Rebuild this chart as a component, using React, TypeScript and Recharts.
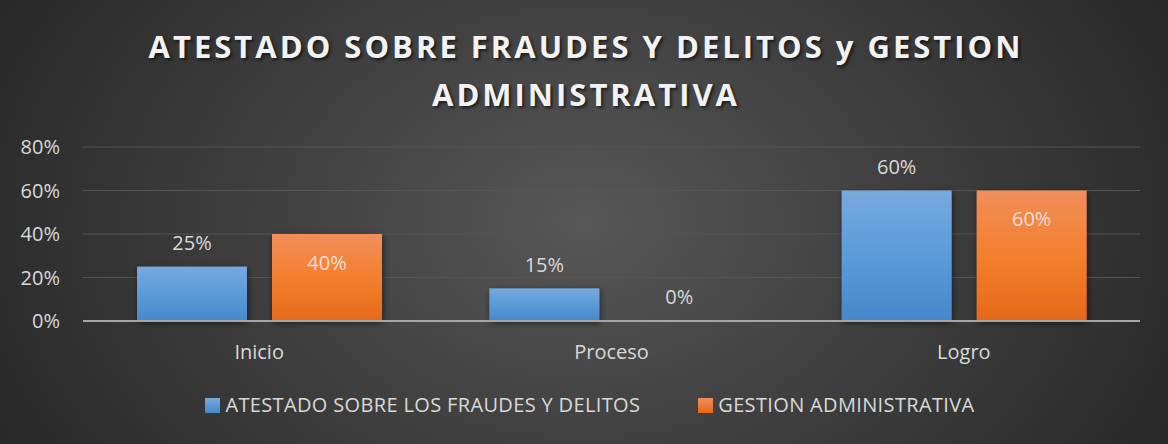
import React from "react";
import { BarChart, Bar, XAxis, YAxis, CartesianGrid, LabelList } from "recharts";

const categories = ["Inicio", "Proceso", "Logro"];
const atestadoValues = [0.25, 0.15, 0.6];
const gestionValues = [0.4, 0, 0.6];
const yTicks = [0, 0.2, 0.4, 0.6, 0.8];
const seriesNames = ["ATESTADO SOBRE LOS FRAUDES Y DELITOS", "GESTION ADMINISTRATIVA"];
const titleLines = ["ATESTADO SOBRE FRAUDES Y DELITOS y GESTION", "ADMINISTRATIVA"];

const data = categories.map((c, i) => ({ name: c, a: atestadoValues[i], g: gestionValues[i] }));

const FONT = "'Open Sans', sans-serif";
const pct = (v: number) => `${Math.round(v * 100)}%`;

const shapeFor = (fillId: string) => (props: any) => {
  const { x, y, width, height } = props;
  if (!height || height <= 0) return <g />;
  return <rect x={x} y={y} width={width} height={height} fill={`url(#${fillId})`} filter="url(#barShadow)" />;
};

const blueLabel = (props: any) => {
  const { x, y, width, value } = props;
  return (
    <text x={x + width / 2} y={y - 24} textAnchor="middle" dominantBaseline="central" fill="#d9d9d9" fontSize={20} fontFamily={FONT}>
      {pct(value)}
    </text>
  );
};

const orangeLabel = (props: any) => {
  const { x, y, width, value } = props;
  const inside = value > 0;
  return (
    <text x={x + width / 2} y={inside ? y + 28 : y - 25} textAnchor="middle" dominantBaseline="central" fill={inside ? "#ecdfd6" : "#d9d9d9"} fontSize={20} fontFamily={FONT}>
      {pct(value)}
    </text>
  );
};

export default function App() {
  return (
    <div
      style={{
        position: "relative",
        width: 1168,
        height: 444,
        overflow: "hidden",
        background: "radial-gradient(ellipse 58% 110% at 50% 50%, #575757 0%, #3e3e3e 50%, #272727 100%)",
        fontFamily: FONT,
      }}
    >
      <style>{"body{margin:0}"}</style>
      {titleLines.map((t, i) => (
        <div
          key={i}
          style={{
            position: "absolute",
            left: 2,
            width: 1168,
            top: i === 0 ? 24 : 72,
            textAlign: "center",
            color: "#f2f2f2",
            fontWeight: 700,
            fontSize: 31,
            letterSpacing: 3,
            lineHeight: "44px",
            textShadow: "2px 2px 3px rgba(0,0,0,0.6)",
          }}
        >
          {t}
        </div>
      ))}
      <div style={{ position: "absolute", left: 0, top: 0 }}>
        <BarChart width={1168} height={444} data={data} margin={{ top: 147, right: 28, left: 0, bottom: 93 }} barSize={110} barGap={25}>
          <defs>
            <linearGradient id="blueGrad" x1="0" y1="0" x2="0" y2="1">
              <stop offset="0%" stopColor="#76aadf" />
              <stop offset="50%" stopColor="#5b9bd9" />
              <stop offset="100%" stopColor="#4588cb" />
            </linearGradient>
            <linearGradient id="orangeGrad" x1="0" y1="0" x2="0" y2="1">
              <stop offset="0%" stopColor="#f18e5b" />
              <stop offset="50%" stopColor="#f47f2e" />
              <stop offset="100%" stopColor="#e5691a" />
            </linearGradient>
            <filter id="barShadow" x="-20%" y="-20%" width="140%" height="140%">
              <feDropShadow dx="1" dy="2" stdDeviation="3" floodColor="#000" floodOpacity="0.55" />
            </filter>
          </defs>
          <CartesianGrid vertical={false} stroke="#555555" strokeWidth={1.2} />
          <XAxis
            dataKey="name"
            height={30}
            axisLine={{ stroke: "#a6a6a6", strokeWidth: 2 }}
            tickLine={false}
            tickMargin={18}
            tick={{ fill: "#d9d9d9", fontSize: 20, fontFamily: FONT }}
          />
          <YAxis
            width={83}
            domain={[0, 0.8]}
            ticks={yTicks}
            tickFormatter={pct}
            axisLine={false}
            tickLine={false}
            tickMargin={17}
            tick={{ fill: "#d9d9d9", fontSize: 20, fontFamily: FONT }}
          />
          <Bar dataKey="a" name={seriesNames[0]} isAnimationActive={false} shape={shapeFor("blueGrad")}>
            <LabelList dataKey="a" content={blueLabel} />
          </Bar>
          <Bar dataKey="g" name={seriesNames[1]} isAnimationActive={false} shape={shapeFor("orangeGrad")}>
            <LabelList dataKey="g" content={orangeLabel} />
          </Bar>
        </BarChart>
      </div>
      <div
        style={{
          position: "absolute",
          top: 392,
          left: 6,
          width: 1168,
          display: "flex",
          justifyContent: "center",
          alignItems: "center",
          color: "#d9d9d9",
          fontSize: 20,
          letterSpacing: 0.35,
          lineHeight: "26px",
        }}
      >
        {seriesNames.map((n, i) => (
          <div key={n} style={{ display: "flex", alignItems: "center", marginRight: i === 0 ? 58 : 0 }}>
            <div
              style={{
                width: 15,
                height: 15,
                marginRight: 5,
                background: i === 0 ? "linear-gradient(#76aadf,#4588cb)" : "linear-gradient(#f18e5b,#e5691a)",
              }}
            />
            <span>{n}</span>
          </div>
        ))}
      </div>
    </div>
  );
}
